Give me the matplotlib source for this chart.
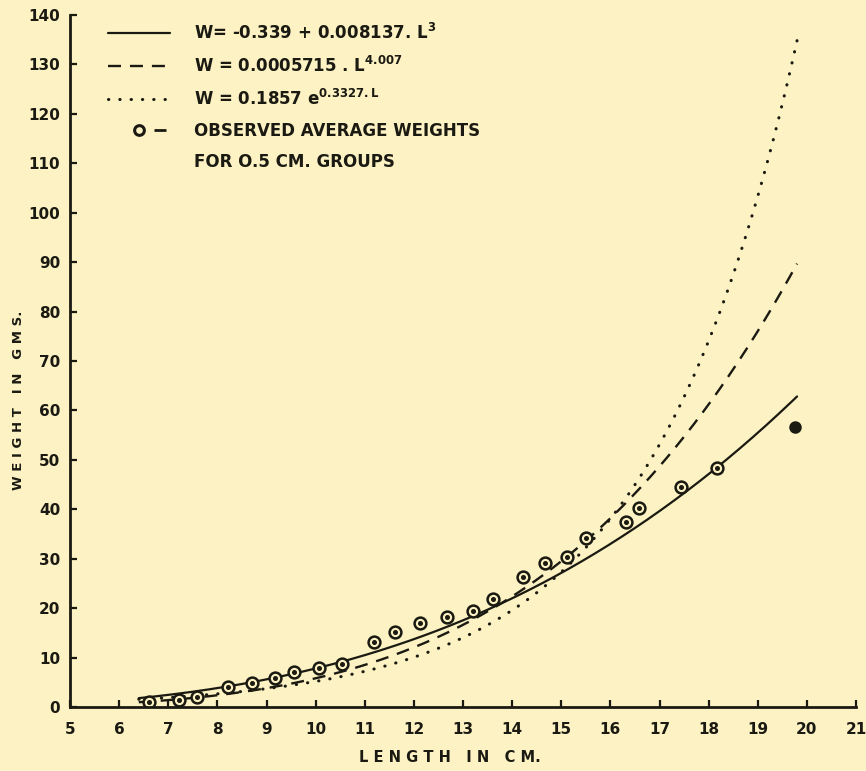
import numpy as np
import matplotlib
matplotlib.use("Agg")
import matplotlib.pyplot as plt
from matplotlib.lines import Line2D
from matplotlib.legend_handler import HandlerTuple

plt.rcParams['font.family'] = ['DejaVu Sans']
plt.rcParams['font.weight'] = 'bold'
plt.rcParams['axes.labelweight'] = 'bold'
plt.rcParams['mathtext.fontset'] = 'custom'
plt.rcParams['mathtext.rm'] = 'DejaVu Sans:bold'
plt.rcParams['mathtext.it'] = 'DejaVu Sans:bold'
plt.rcParams['mathtext.bf'] = 'DejaVu Sans:bold'
plt.rcParams['mathtext.default'] = 'rm'

# ---- data ----
# fitted models (coefficients as printed in the legend)
cubic_a, cubic_b = -0.339, 0.008137          # W = a + b L^3
power_c, power_k = 0.0005715, 4.007          # W = c L^k
expo_c, expo_r = 0.1857, 0.3327              # W = c e^(r L)
length_min, length_max = 6.4, 19.8           # range over which curves are drawn

# observed average weights for 0.5 cm groups
obs_length = [6.61, 7.22, 7.58, 8.22, 8.70, 9.17, 9.55, 10.07, 10.54, 11.19,
              11.62, 12.12, 12.67, 13.21, 13.62, 14.23, 14.67, 15.12, 15.50,
              16.32, 16.58, 17.44, 18.18]
obs_weight = [1.1, 1.5, 2.1, 4.1, 4.8, 5.8, 7.1, 7.8, 8.8, 13.2,
              15.2, 16.9, 18.3, 19.5, 21.8, 26.4, 29.2, 30.4, 34.1,
              37.5, 40.3, 44.5, 48.3]
obs_last_length = [19.76]
obs_last_weight = [56.7]

x_ticks = list(range(5, 22))
y_ticks = list(range(0, 141, 10))

legend_labels = [r"W= -0.339 + 0.008137. L$^{3}$",
                 r"W = 0.0005715 . L$^{4.007}$",
                 r"W = 0.1857 e$^{0.3327.L}$",
                 "OBSERVED AVERAGE WEIGHTS",
                 "FOR O.5 CM. GROUPS"]

# ---- style ----
bg = '#fcf2c3'
ink = '#1b1a12'

fig = plt.figure(figsize=(8.66, 7.71), dpi=100, facecolor=bg)
ax = fig.add_axes([70/866, (771-707)/771, 786/866, 692/771])
ax.set_facecolor(bg)

L = np.linspace(length_min, length_max, 300)
w_cubic = cubic_a + cubic_b * L**3
w_power = power_c * L**power_k
w_expo = expo_c * np.exp(expo_r * L)

l1, = ax.plot(L, w_cubic, color=ink, lw=1.6, solid_capstyle='round')
l2, = ax.plot(L, w_power, color=ink, lw=1.7, linestyle=(0, (5.5, 3.8)))
l3, = ax.plot(L, w_expo, color=ink, lw=2.2, linestyle=(0, (0.1, 3.6)),
              dash_capstyle='round')

ax.plot(obs_length, obs_weight, 'o', mfc=bg, mec=ink, ms=8.5, mew=1.8)
ax.plot(obs_length, obs_weight, 'o', color=ink, ms=2.6)
ax.plot(obs_last_length, obs_last_weight, 'o', color=ink, ms=8)

ax.set_xlim(5, 21)
ax.set_ylim(0, 140)
ax.set_xticks(x_ticks)
ax.set_yticks(y_ticks)
ax.tick_params(direction='in', length=5, width=1.6, color=ink,
               labelcolor=ink, labelsize=11)
ax.tick_params(axis='x', pad=11)
ax.tick_params(axis='y', pad=7)
for s in ['top', 'right']:
    ax.spines[s].set_visible(False)
for s in ['left', 'bottom']:
    ax.spines[s].set_linewidth(2.0)
    ax.spines[s].set_color(ink)
ax.spines['bottom'].set_bounds(5, 21)

ax.set_xlabel("L E N G T H   I N   C M.", fontsize=10.5, color=ink,
              fontweight='bold')
ax.xaxis.set_label_coords((450-70)/786, (707-758)/692)
ax.xaxis.label.set_va('center')
ax.set_ylabel("W E I G H T   I N   G M S.", fontsize=9.5, color=ink,
              fontweight='bold')
ax.yaxis.set_label_coords((18-70)/786, (707-400)/692)
ax.yaxis.label.set_va('center')

h_obs = (Line2D([], [], ls='none'),
         Line2D([], [], marker='o', ls='none', mfc='none', mec=ink, ms=7, mew=2.2),
         Line2D([], [], marker='_', ls='none', mec=ink, ms=9, mew=2))
h_blank = Line2D([], [], ls='none')
leg = ax.legend([l1, l2, l3, h_obs, h_blank], legend_labels,
                handler_map={tuple: HandlerTuple(ndivide=None, pad=0.1)},
                loc='upper left', bbox_to_anchor=((108-70)/786, (707-23)/692),
                frameon=False, fontsize=12, handlelength=3.7, handletextpad=1.45,
                borderpad=0, borderaxespad=0, labelspacing=0.78,
                labelcolor=ink)
for t in leg.get_texts():
    t.set_color(ink)

fig.savefig('out.png', dpi=100, facecolor=bg)
